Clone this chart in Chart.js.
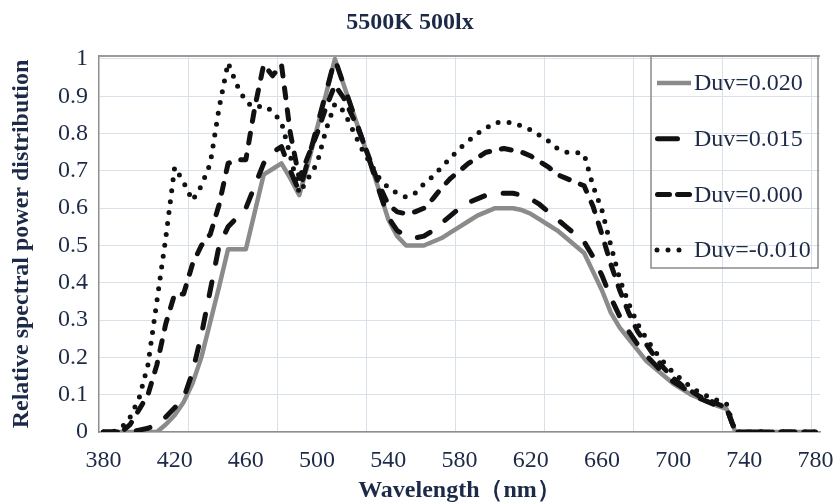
<!DOCTYPE html>
<html><head><meta charset="utf-8">
<script src="https://cdn.jsdelivr.net/npm/chart.js@4.4.0/dist/chart.umd.min.js"></script>
<style>html,body{margin:0;padding:0;background:#fff}#wrap{width:835px;height:504px;position:relative}</style>
</head><body><div id="wrap"><canvas id="c"></canvas></div>
<script>
// ---- data ----
const chartTitle = '5500K 500lx';
const xTitle = 'Wavelength（nm）';
const yTitle = 'Relative spectral power distribution';
const wavelengths = [380,385,390,395,400,405,410,415,420,425,
  430,435,440,445,450,455,460,465,470,475,
  480,485,490,495,500,505,510,515,520,525,
  530,535,540,545,550,555,560,565,570,575,
  580,585,590,595,600,605,610,615,620,625,
  630,635,640,645,650,655,660,665,670,675,
  680,685,690,695,700,705,710,715,720,725,
  730,735,740,745,750,755,760,765,770,775,780];
const duv020 = [0,0,0,0,0,0,0,0.02,0.045,0.08,
  0.13,0.20,0.295,0.39,0.49,0.49,0.49,0.59,0.69,0.705,
  0.72,0.68,0.635,0.72,0.815,0.905,1.0,0.93,0.86,0.79,
  0.72,0.645,0.57,0.525,0.50,0.50,0.50,0.51,0.52,0.535,
  0.55,0.565,0.58,0.59,0.60,0.60,0.60,0.595,0.585,0.57,
  0.555,0.54,0.52,0.50,0.48,0.43,0.38,0.32,0.28,0.25,
  0.22,0.19,0.17,0.15,0.13,0.115,0.10,0.09,0.08,0.07,
  0.062,0,0,0,0,0,0,0,0,0,0];
const duv015 = [0,0,0,0,0.005,0.01,0.02,0.04,0.065,0.09,
  0.16,0.26,0.38,0.50,0.55,0.575,0.60,0.66,0.72,0.75,
  0.765,0.70,0.645,0.73,0.82,0.91,1.0,0.93,0.86,0.79,
  0.72,0.645,0.575,0.54,0.525,0.52,0.525,0.54,0.56,0.58,
  0.60,0.615,0.625,0.635,0.64,0.64,0.64,0.635,0.625,0.61,
  0.59,0.57,0.55,0.53,0.51,0.47,0.42,0.36,0.31,0.27,
  0.235,0.205,0.18,0.155,0.135,0.12,0.105,0.09,0.08,0.07,
  0.065,0,0,0,0,0,0,0,0,0,0];
const duv000 = [0,0,0,0.02,0.06,0.10,0.18,0.29,0.37,0.37,
  0.45,0.50,0.53,0.61,0.72,0.73,0.73,0.87,0.985,0.955,
  0.985,0.80,0.68,0.74,0.80,0.87,0.93,0.895,0.845,0.79,
  0.725,0.66,0.61,0.59,0.585,0.59,0.60,0.625,0.655,0.68,
  0.70,0.72,0.735,0.75,0.755,0.76,0.755,0.75,0.74,0.725,
  0.71,0.69,0.68,0.67,0.66,0.605,0.53,0.45,0.38,0.32,
  0.27,0.235,0.20,0.17,0.145,0.125,0.11,0.095,0.085,0.075,
  0.065,0,0,0,0,0,0,0,0,0,0];
const duvNeg010 = [0,0,0.01,0.04,0.09,0.18,0.35,0.52,0.71,0.67,
  0.62,0.66,0.72,0.87,0.99,0.93,0.885,0.87,0.875,0.86,
  0.83,0.74,0.64,0.68,0.72,0.81,0.88,0.86,0.81,0.76,
  0.72,0.68,0.655,0.64,0.63,0.64,0.665,0.685,0.71,0.735,
  0.76,0.78,0.80,0.815,0.83,0.83,0.83,0.82,0.81,0.795,
  0.78,0.76,0.75,0.75,0.745,0.66,0.595,0.50,0.41,0.345,
  0.29,0.25,0.215,0.185,0.16,0.14,0.12,0.105,0.095,0.085,
  0.075,0,0,0,0,0,0,0,0,0,0];
const seriesLabels = ['Duv=0.020','Duv=0.015','Duv=0.000','Duv=-0.010'];
const yTicks = [0,0.1,0.2,0.3,0.4,0.5,0.6,0.7,0.8,0.9,1];
const labelEvery = 8;   // a wavelength label every 8 categories (40 nm)
const gridEvery = 10;   // a gridline every 10 categories (50 nm)

// ---- styles ----
const textColor = '#1d2a47';
const serif = '"Liberation Serif", "Times New Roman", serif';
const gridColor = '#d9e0ea';
const axisColor = '#8e8e8e';
// legend sample strokes: [start offset, end offset, dash pattern]
const legendSamples = [[6, 40, []], [6.5, 26.5, []], [6.5, 38.5, [12, 8]], [6, 29, [0, 11]]];

const plotFrame = {
  id: 'plotFrame',
  beforeDatasetsDraw(chart) {
    const {ctx, chartArea: a} = chart;
    ctx.save();
    ctx.strokeStyle = '#9a9a9a'; ctx.lineWidth = 2;
    ctx.beginPath(); ctx.moveTo(a.left, a.top); ctx.lineTo(a.right, a.top); ctx.stroke();
    ctx.restore();
  }
};

const boxLegend = {
  id: 'boxLegend',
  afterDatasetsDraw(chart) {
    const {ctx, chartArea: a} = chart;
    const L = a.right - 169, R = a.right - 2, T = a.top, B = a.top + 212;
    ctx.save();
    ctx.setLineDash([]);
    ctx.strokeStyle = '#8a8a8a'; ctx.lineWidth = 1.5;
    ctx.strokeRect(L, T, R - L, B - T);
    ctx.font = '24px ' + serif; ctx.fillStyle = textColor;
    ctx.textBaseline = 'middle'; ctx.textAlign = 'left';
    chart.data.datasets.forEach((ds, i) => {
      const y = T + 27 + i * 55.7;
      const [s0, s1, dash] = legendSamples[i];
      ctx.strokeStyle = ds.borderColor; ctx.lineWidth = ds.borderWidth;
      ctx.lineCap = ds.borderCapStyle || 'butt';
      ctx.setLineDash(dash);
      ctx.beginPath(); ctx.moveTo(L + s0, y); ctx.lineTo(L + s1, y); ctx.stroke();
      ctx.setLineDash([]);
      ctx.fillText(ds.label, L + 43, y + 1);
    });
    ctx.restore();
  }
};

const common = {pointRadius: 0, tension: 0, fill: false, borderJoinStyle: 'round'};

new Chart(document.getElementById('c'), {
  type: 'line',
  data: {
    labels: wavelengths,
    datasets: [
      Object.assign({label: seriesLabels[0], data: duv020, borderColor: '#8b8b8b', borderWidth: 4.5, borderCapStyle: 'butt', order: 4}, common),
      Object.assign({label: seriesLabels[1], data: duv015, borderColor: '#111111', borderWidth: 5, borderCapStyle: 'round', borderDash: [14, 19], order: 3}, common),
      Object.assign({label: seriesLabels[2], data: duv000, borderColor: '#111111', borderWidth: 5, borderCapStyle: 'round', borderDash: [10, 12], order: 2}, common),
      Object.assign({label: seriesLabels[3], data: duvNeg010, borderColor: '#111111', borderWidth: 5, borderCapStyle: 'round', borderDash: [0, 11], order: 1}, common)
    ]
  },
  options: {
    responsive: true, maintainAspectRatio: false, animation: false, devicePixelRatio: 1,
    layout: {padding: {left: 0, right: 15, top: 0, bottom: 0}},
    plugins: {
      legend: {display: false}, tooltip: {enabled: false},
      title: {display: true, text: chartTitle, color: textColor,
        font: {family: serif, size: 24, weight: 'bold', lineHeight: 1},
        padding: {top: 11, bottom: 21}}
    },
    scales: {
      x: {
        type: 'category', offset: true,
        grid: {offset: true, drawTicks: false,
          color: (c) => (c.index > 0 && c.index % gridEvery === 0 && c.index < wavelengths.length) ? gridColor : 'rgba(0,0,0,0)',
          lineWidth: 1},
        border: {color: axisColor, width: 1.5},
        ticks: {autoSkip: false, maxRotation: 0, minRotation: 0, padding: 14, color: textColor,
          font: {family: serif, size: 24},
          callback: function (v, i) { return i % labelEvery === 0 ? this.getLabelForValue(v) : ''; }},
        title: {display: true, text: xTitle, color: textColor,
          font: {family: serif, size: 24, weight: 'bold', lineHeight: 1}, padding: {top: 0, bottom: 1}},
        afterFit: (s) => { s.height = 72; s.paddingLeft = 0; s.paddingRight = 0; }
      },
      y: {
        type: 'linear', min: 0, max: 1.008,
        afterBuildTicks: (s) => { s.ticks = yTicks.map(v => ({value: v})); },
        grid: {color: gridColor, lineWidth: 1, drawTicks: false},
        border: {color: axisColor, width: 1.5},
        ticks: {padding: 11, color: textColor, font: {family: serif, size: 24},
          callback: (v) => String(Math.round(v * 10) / 10)},
        title: {display: true, text: yTitle, color: textColor,
          font: {family: serif, size: 24, weight: 'bold', lineHeight: 1}, padding: {top: 10, bottom: 0}},
        afterFit: (s) => { s.width = 99; s.paddingTop = 0; s.paddingBottom = 0; }
      }
    }
  },
  plugins: [plotFrame, boxLegend]
});
</script></body></html>
